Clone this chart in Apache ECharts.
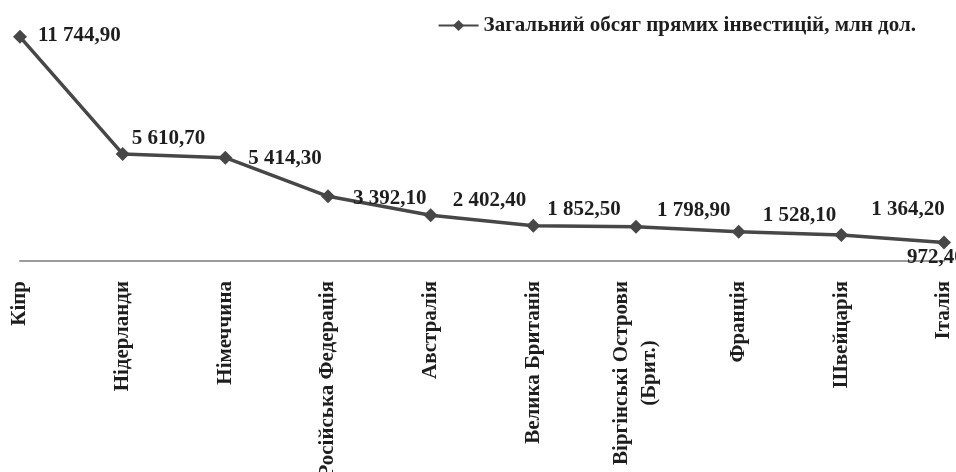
<!DOCTYPE html>
<html>
<head>
<meta charset="utf-8">
<script src="https://cdn.jsdelivr.net/npm/echarts@6/dist/echarts.min.js"></script>
<style>
  html, body { margin: 0; padding: 0; background: #fff; }
  #chart { width: 956px; height: 472px; }
</style>
</head>
<body>
<div id="chart"></div>
<script>
// ---- data ----
var categories = ['Кіпр', 'Нідерланди', 'Німеччина', 'Російська Федерація', 'Австралія',
  'Велика Британія', 'Віргінські Острови\n(Брит.)', 'Франція', 'Швейцарія', 'Італія'];
var investment = [11744.90, 5610.70, 5414.30, 3392.10, 2402.40, 1852.50, 1798.90, 1528.10, 1364.20, 972.40];
var seriesName = 'Загальний обсяг прямих інвестицій, млн дол.';

// ---- label placement tweaks (layout only) ----
var labelNudge = [[6, -1], [-3, -15], [11, 1], [13, 2], [10, -15], [2, -16], [9, -16], [12, -16], [18, -25], [-49, 15]];

var FONT = '"Liberation Serif", "Times New Roman", serif';
var FS = 21;
var TEXT = '#1e1e1e';
var LINE = '#474747';

function fmt(v) {
  var s = v.toFixed(2).split('.');
  var int = s[0].replace(/\B(?=(\d{3})+(?!\d))/g, ' ');
  return int + ',' + s[1];
}

var seriesData = investment.map(function (v, i) {
  return {
    value: v,
    label: { offset: labelNudge[i] }
  };
});

var chart = echarts.init(document.getElementById('chart'), null, { renderer: 'canvas' });
chart.setOption({
  animation: false,
  backgroundColor: '#ffffff',
  legend: {
    show: true,
    right: 35,
    top: 10,
    itemWidth: 40,
    itemHeight: 14,
    textStyle: { fontFamily: FONT, fontWeight: 'bold', fontSize: FS, color: TEXT },
    data: [seriesName]
  },
  grid: { left: 20, right: 12, top: 32, bottom: 211, containLabel: false, outerBoundsMode: 'none' },
  xAxis: {
    type: 'category',
    data: categories,
    boundaryGap: false,
    axisLine: { show: true, lineStyle: { color: '#9a9a9a', width: 2 } },
    axisTick: { show: false },
    splitLine: { show: false },
    axisLabel: {
      rotate: 90,
      interval: 0,
      margin: 20,
      fontFamily: FONT,
      fontWeight: 'bold',
      fontSize: FS,
      color: TEXT,
      formatter: function (val) {
        if (val.indexOf('\n') >= 0) {
          var parts = val.split('\n');
          return '{a|' + parts[0] + '}\n{b|' + parts[1] + '}';
        }
        return val;
      },
      rich: {
        a: { fontFamily: FONT, fontWeight: 'bold', fontSize: FS, color: TEXT, lineHeight: 28 },
        b: { fontFamily: FONT, fontWeight: 'bold', fontSize: FS, color: TEXT, lineHeight: 28, align: 'center' }
      }
    }
  },
  yAxis: {
    type: 'value',
    min: 0,
    max: 12000,
    show: false,
    splitLine: { show: false }
  },
  series: [{
    name: seriesName,
    type: 'line',
    data: seriesData,
    symbol: 'diamond',
    symbolSize: 14,
    showAllSymbol: true,
    lineStyle: { color: LINE, width: 3.5 },
    itemStyle: { color: LINE },
    label: {
      show: true,
      position: 'right',
      distance: 5,
      fontFamily: FONT,
      fontWeight: 'bold',
      fontSize: FS,
      color: TEXT,
      formatter: function (p) { return fmt(p.value); }
    }
  }]
});
</script>
</body>
</html>
